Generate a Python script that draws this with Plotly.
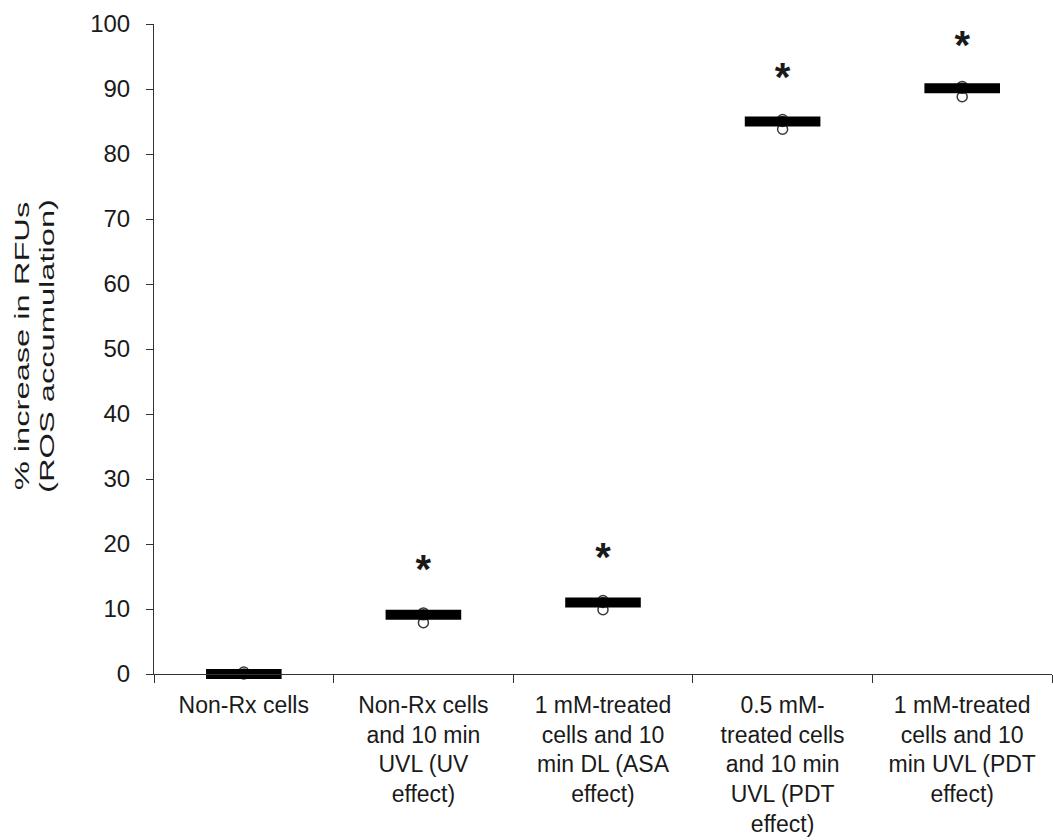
import plotly.graph_objects as go

categories = [
    "Non-Rx cells",
    "Non-Rx cells<br>and 10 min<br>UVL (UV<br>effect)",
    "1 mM-treated<br>cells and 10<br>min DL (ASA<br>effect)",
    "0.5 mM-<br>treated cells<br>and 10 min<br>UVL (PDT<br>effect)",
    "1 mM-treated<br>cells and 10<br>min UVL (PDT<br>effect)",
]
means = [0.0, 9.1, 11.0, 85.0, 90.1]
sd = [0.3, 0.3, 0.3, 0.3, 0.3]
rep_upper = [0.3, 9.4, 11.3, 85.3, 90.4]
rep_mid = [0.0, 9.1, 11.0, 85.0, 90.1]
rep_lower = [-0.3, 7.9, 9.9, 83.8, 88.8]
star_y = [None, 15.6, 17.4, 91.3, 96.1]
star_text = ["", "*", "*", "*", "*"]

FONT = "Liberation Sans, Arial, sans-serif"
TXT = "#1a1a1a"

fig = go.Figure()

for reps in (rep_upper, rep_mid, rep_lower):
    fig.add_trace(go.Scatter(
        x=categories, y=reps, mode="markers", cliponaxis=False,
        marker=dict(symbol="circle-open", size=10, color="#3a3a3a", line=dict(width=1.5)),
        showlegend=False, hoverinfo="skip",
    ))

fig.add_trace(go.Scatter(
    x=categories, y=means, mode="markers", cliponaxis=False,
    marker=dict(symbol="line-ew", size=54, color="black", line=dict(width=10, color="black")),
    error_y=dict(type="data", array=sd, color="black", thickness=4, width=0),
    showlegend=False, hoverinfo="skip",
))

fig.add_trace(go.Scatter(
    x=categories, y=star_y, mode="text", text=star_text, cliponaxis=False,
    textposition="middle center",
    textfont=dict(family=FONT, size=40, color=TXT, weight="bold"),
    showlegend=False, hoverinfo="skip",
))

fig.update_layout(
    width=1053, height=840,
    margin=dict(l=154, r=1, t=24, b=166),
    paper_bgcolor="white", plot_bgcolor="white",
    font=dict(family=FONT, size=23, color=TXT),
    xaxis=dict(
        type="category", range=[-0.5, 4.5], tickson="boundaries",
        ticks="outside", ticklen=8, tickcolor="#333", showline=True,
        linecolor="#333", linewidth=1, showgrid=False, zeroline=False,
        ticklabelstandoff=10, automargin=False,
        tickfont=dict(family=FONT, size=23, color=TXT),
    ),
    yaxis=dict(
        range=[0, 100], tickvals=list(range(0, 101, 10)),
        ticks="outside", ticklen=7, tickcolor="#333", showline=True,
        linecolor="#333", linewidth=1, showgrid=False, zeroline=False,
        ticklabelstandoff=11, automargin=False,
        tickfont=dict(family=FONT, size=24, color=TXT),
        title=dict(text="% increase in RFUs<br>(ROS accumulation)",
                   font=dict(family=FONT, size=23, color=TXT), standoff=20),
    ),
)

post = """
var gd = document.getElementById('{plot_id}');
function fixTitle() {
  var t = gd.querySelector('.ytitle');
  if (!t) return;
  var svg = gd.querySelector('svg.main-svg');
  var T = t.getAttribute('data-orig-transform');
  if (T === null) { T = t.getAttribute('transform') || ''; t.setAttribute('data-orig-transform', T); }
  t.setAttribute('transform', T);
  var r = t.getBoundingClientRect();
  var s = svg.getBoundingClientRect();
  var cx = r.left - s.left + r.width / 2;
  var cy = r.top - s.top + r.height / 2;
  var tx = 35, ty = 346;
  t.setAttribute('transform', 'translate(' + tx + ',' + ty + ') scale(0.85,1.42) translate(' + (-cx) + ',' + (-cy) + ') ' + T);
}
fixTitle();
"""

fig.write_html("out.html", post_script=post)
